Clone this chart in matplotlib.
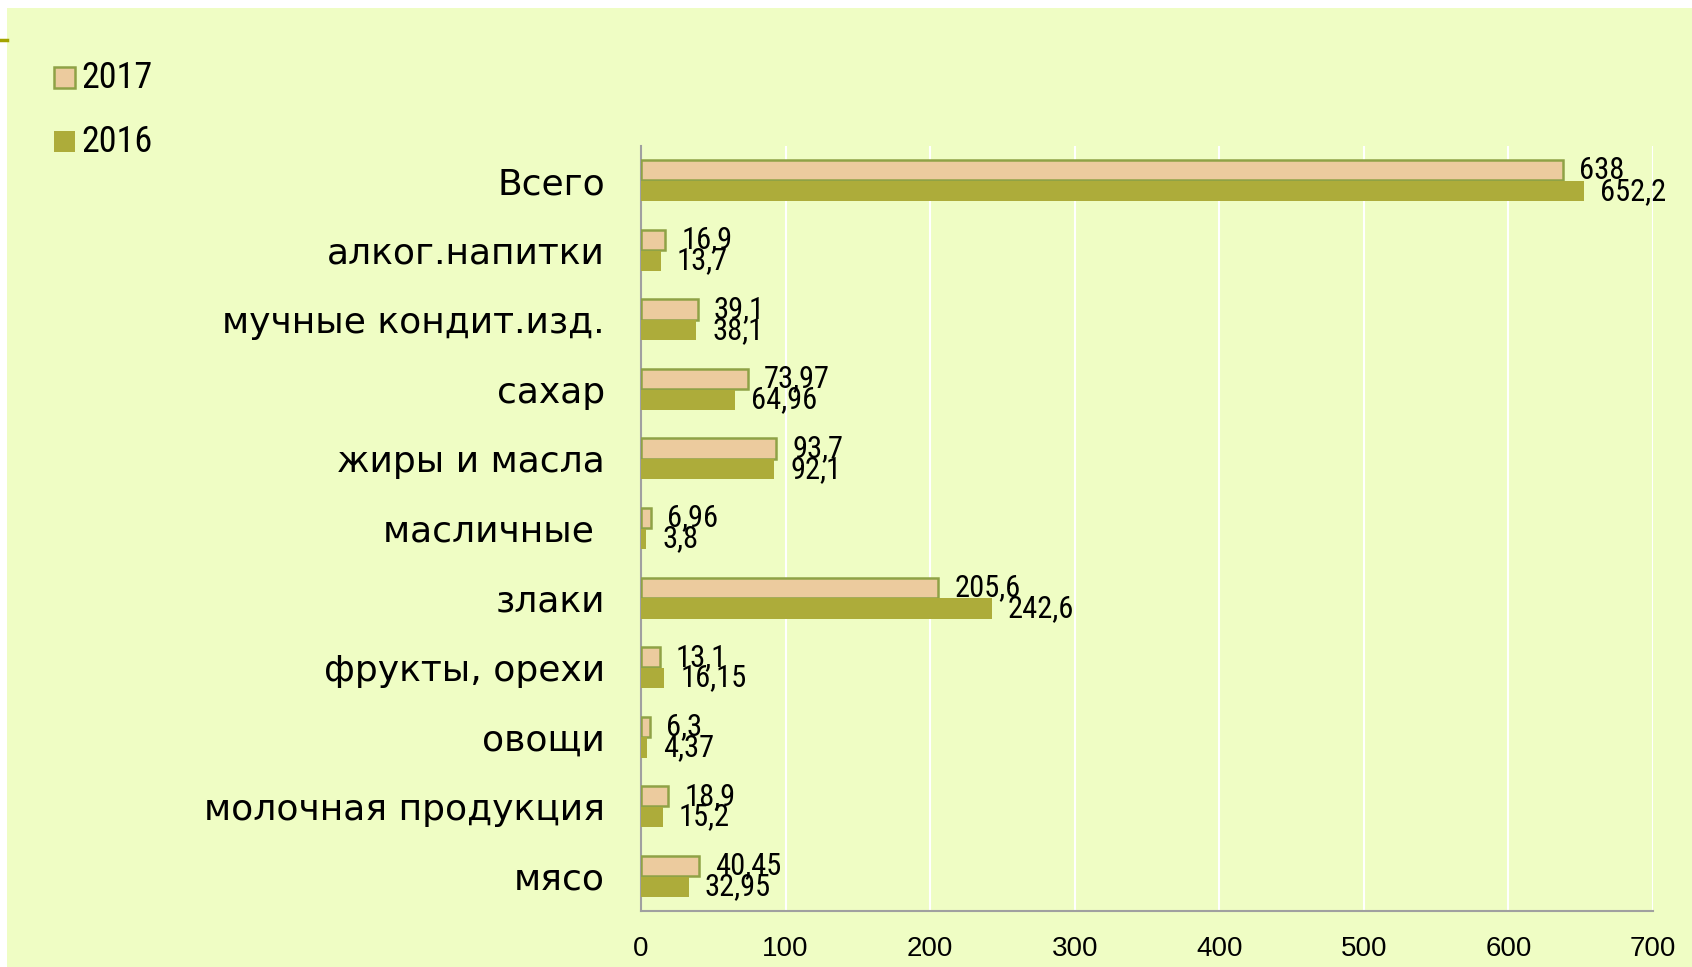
import matplotlib
matplotlib.use("Agg")
import matplotlib.pyplot as plt
from matplotlib.patches import Rectangle
from matplotlib.lines import Line2D

categories = ["Всего", "алког.напитки", "мучные кондит.изд.", "сахар",
              "жиры и масла", "масличные ", "злаки", "фрукты, орехи",
              "овощи", "молочная продукция", "мясо"]
values_2017 = [638, 16.9, 39.1, 73.97, 93.7, 6.96, 205.6, 13.1, 6.3, 18.9, 40.45]
values_2016 = [652.2, 13.7, 38.1, 64.96, 92.1, 3.8, 242.6, 16.15, 4.37, 15.2, 32.95]
series_names = ["2017", "2016"]
x_ticks = [0, 100, 200, 300, 400, 500, 600, 700]

BG = "#EFFDC4"
TAN = "#ECCB9E"
TAN_EDGE = "#8FA246"
OLIVE = "#ADAC3A"
NARROW = dict(family=["Liberation Sans Narrow", "Roboto Condensed", "Noto Sans Condensed",
                      "Open Sans Condensed", "DejaVu Sans"],
              fontstretch="condensed")

W, H = 1692, 967
fig = plt.figure(figsize=(W / 100, H / 100), dpi=100)
fig.patch.set_facecolor("white")
fig.patches.append(Rectangle((7 / W, 0), 1 - 7 / W, 1 - 8 / H, transform=fig.transFigure,
                             facecolor=BG, edgecolor="none", zorder=-10))
fig.lines.append(Line2D([0, 7 / W], [1 - 40 / H, 1 - 40 / H], transform=fig.transFigure,
                        color="#A3A300", linewidth=2.5, zorder=-5))

ax = fig.add_axes([641 / W, 1 - 911 / H, (1653 - 641) / W, (911 - 146) / H])
ax.set_facecolor(BG)

pos = list(range(len(categories)))
h = 0.29
off = 0.15
y17 = [p - off for p in pos]
y16 = [p + off for p in pos]
ax.barh(y17, values_2017, height=h, color=TAN, edgecolor=TAN_EDGE, linewidth=1.8, zorder=3)
ax.barh(y16, values_2016, height=h, color=OLIVE, edgecolor="none", zorder=3)

def fmt(v):
    return f"{v:g}".replace(".", ",")

for y, v in zip(y17, values_2017):
    ax.annotate(fmt(v), (v, y), xytext=(11.5, 0), textcoords="offset points",
                va="center", ha="left", fontsize=22, zorder=5, **NARROW)
for y, v in zip(y16, values_2016):
    ax.annotate(fmt(v), (v, y), xytext=(11.5, 0), textcoords="offset points",
                va="center", ha="left", fontsize=22, zorder=5, **NARROW)

ax.set_xlim(0, 700)
ax.set_ylim(len(categories) - 0.5, -0.5)
ax.set_xticks(x_ticks)
ax.set_xticklabels([str(t) for t in x_ticks], fontsize=20, family=["Liberation Sans", "DejaVu Sans"])
ax.set_yticks(pos)
ax.set_yticklabels(categories, fontsize=26, family="DejaVu Sans")
ax.tick_params(axis="y", length=0, pad=26)
ax.tick_params(axis="x", length=0, pad=18)
ax.grid(axis="x", color="white", linewidth=1.5, zorder=1)
ax.set_axisbelow(True)
for s in ["top", "right"]:
    ax.spines[s].set_visible(False)
for s in ["left", "bottom"]:
    ax.spines[s].set_color("#A0A0A0")
    ax.spines[s].set_linewidth(1.5)

# legend
leg_items = [(series_names[0], TAN, TAN_EDGE, 67), (series_names[1], OLIVE, "none", 131)]
for name, fc, ec, ytop in leg_items:
    fig.patches.append(Rectangle((54 / W, 1 - (ytop + 21) / H), 21 / W, 21 / H,
                                 transform=fig.transFigure, facecolor=fc, edgecolor=ec,
                                 linewidth=1.8, zorder=3))
    fig.text(81 / W, 1 - (ytop + 10.5) / H, name, fontsize=26,
             va="center", ha="left", **NARROW)

fig.savefig("out.png", dpi=100, facecolor=fig.get_facecolor())
